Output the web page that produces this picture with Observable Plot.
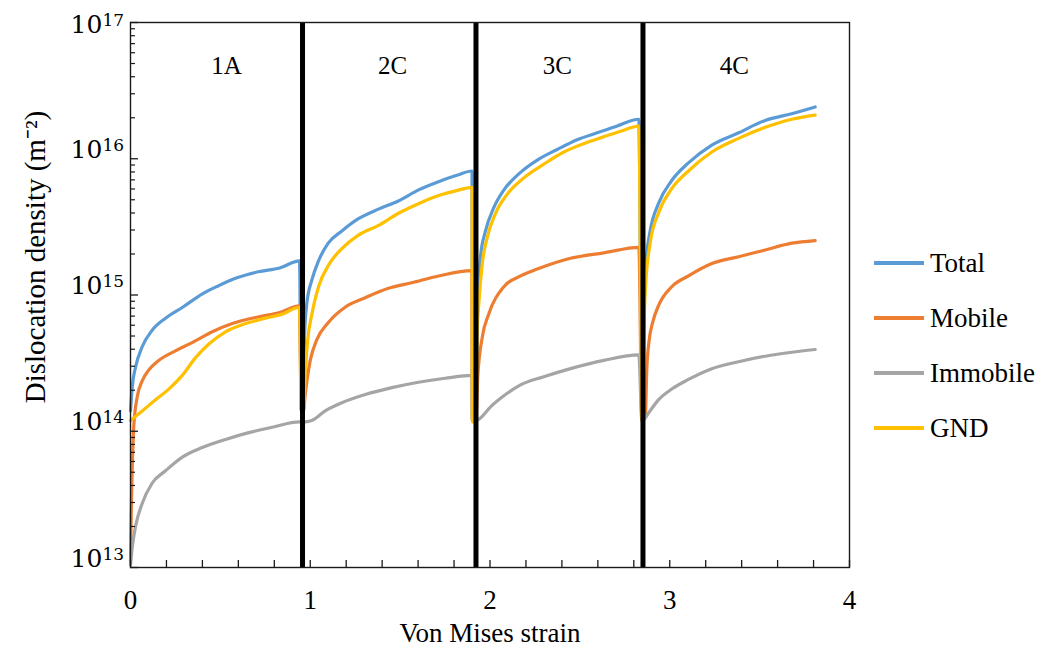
<!DOCTYPE html>
<html>
<head>
<meta charset="utf-8">
<script src="https://cdn.jsdelivr.net/npm/d3@7"></script>
<script src="https://cdn.jsdelivr.net/npm/@observablehq/plot@0.6"></script>
<style>
  body { margin: 0; background: #fff; }
  #wrap { position: relative; width: 1041px; height: 654px; font-family: "Liberation Serif", "Times New Roman", serif; }
  #legend { position: absolute; left: 874px; top: 0; }
  .row { position: absolute; left: 0; display: flex; align-items: center; height: 30px; white-space: nowrap; font-size: 27px; color: #000; font-family: "Liberation Serif", "Times New Roman", serif; }
  .sw { width: 50px; height: 4px; margin-right: 6px; }
</style>
</head>
<body>
<div id="wrap"><div id="legend"></div></div>
<script>
// ---------- data ----------
const seriesNames = ["Total", "Mobile", "Immobile", "GND"];
const seriesColors = ["#5b9bd5", "#ed7d31", "#a5a5a5", "#ffc000"];

const totalStrain = [0, 0.01, 0.028, 0.065, 0.12, 0.195, 0.29, 0.40, 0.49, 0.58, 0.71, 0.83, 0.94,
  0.95, 0.962, 0.968, 0.981, 1.009, 1.046, 1.10, 1.176, 1.268, 1.38, 1.49, 1.60, 1.71, 1.82, 1.90,
  1.902, 1.922, 1.928, 1.934, 1.947, 1.975, 2.021, 2.077, 2.17, 2.263, 2.374, 2.485, 2.596, 2.708, 2.828,
  2.845, 2.851, 2.857, 2.867, 2.891, 2.937, 3.011, 3.104, 3.234, 3.383, 3.531, 3.679, 3.809];
const totalDensity = [1.41e14, 2.14e14, 2.95e14, 4.17e14, 5.50e14, 6.76e14, 8.13e14, 1.02e15, 1.17e15, 1.32e15, 1.48e15, 1.58e15, 1.78e15,
  1.41e14, 1.41e14, 4.90e14, 8.71e14, 1.29e15, 1.78e15, 2.40e15, 2.95e15, 3.63e15, 4.27e15, 4.90e15, 5.89e15, 6.76e15, 7.59e15, 8.13e15,
  1.2e14, 1.2e14, 6.5e14, 1.15e15, 1.91e15, 2.95e15, 4.37e15, 5.89e15, 7.94e15, 9.77e15, 1.17e16, 1.38e16, 1.55e16, 1.74e16, 1.95e16,
  1.2e14, 1.2e14, 9.0e14, 1.70e15, 2.95e15, 4.68e15, 6.92e15, 9.33e15, 1.26e16, 1.55e16, 1.91e16, 2.14e16, 2.40e16];

const mobileStrain = [0, 0.004, 0.009, 0.018, 0.037, 0.065, 0.102, 0.157, 0.25, 0.343, 0.455, 0.566, 0.714, 0.825, 0.94,
  0.95, 0.962, 0.972, 1.0, 1.036, 1.102, 1.194, 1.306, 1.435, 1.565, 1.714, 1.90,
  1.902, 1.922, 1.932, 1.957, 1.993, 2.077, 2.17, 2.263, 2.448, 2.633, 2.828,
  2.845, 2.851, 2.865, 2.872, 2.885, 2.905, 2.94, 3.011, 3.104, 3.234, 3.383, 3.531, 3.679, 3.809];
const mobileDensity = [1.1e13, 2.51e13, 4.90e13, 1.07e14, 1.78e14, 2.34e14, 2.82e14, 3.31e14, 3.89e14, 4.47e14, 5.37e14, 6.17e14, 6.92e14, 7.41e14, 8.32e14,
  1.41e14, 1.41e14, 1.86e14, 3.31e14, 4.68e14, 6.31e14, 8.13e14, 9.55e14, 1.12e15, 1.23e15, 1.38e15, 1.51e15,
  1.2e14, 1.2e14, 2.51e14, 4.90e14, 7.24e14, 1.15e15, 1.38e15, 1.55e15, 1.86e15, 2.04e15, 2.24e15,
  1.2e14, 1.2e14, 1.35e14, 2.8e14, 4.6e14, 6.3e14, 8.5e14, 1.15e15, 1.38e15, 1.70e15, 1.91e15, 2.14e15, 2.40e15, 2.51e15];

const immobileStrain = [0, 0.01, 0.028, 0.065, 0.121, 0.195, 0.288, 0.399, 0.529, 0.658, 0.788, 0.94,
  0.96, 1.009, 1.083, 1.176, 1.306, 1.454, 1.602, 1.751, 1.90,
  1.902, 1.922, 1.94, 2.003, 2.077, 2.17, 2.299, 2.448, 2.633, 2.828,
  2.845, 2.851, 2.88, 2.937, 3.011, 3.104, 3.234, 3.383, 3.531, 3.679, 3.809];
const immobileDensity = [1.05e13, 1.41e13, 2.0e13, 2.95e13, 4.17e13, 5.13e13, 6.46e13, 7.59e13, 8.71e13, 9.77e13, 1.07e14, 1.17e14,
  1.17e14, 1.20e14, 1.41e14, 1.62e14, 1.86e14, 2.09e14, 2.29e14, 2.45e14, 2.57e14,
  1.2e14, 1.2e14, 1.23e14, 1.51e14, 1.82e14, 2.19e14, 2.51e14, 2.88e14, 3.31e14, 3.63e14,
  1.2e14, 1.2e14, 1.35e14, 1.70e14, 2.04e14, 2.40e14, 2.88e14, 3.24e14, 3.55e14, 3.80e14, 3.98e14];

const gndStrain = [0, 0.065, 0.139, 0.213, 0.288, 0.362, 0.436, 0.529, 0.640, 0.751, 0.844, 0.94,
  0.95, 0.962, 0.972, 0.986, 1.009, 1.046, 1.102, 1.176, 1.268, 1.38, 1.491, 1.602, 1.714, 1.825, 1.90, 1.902,
  1.922, 1.928, 1.938, 1.957, 1.984, 2.031, 2.096, 2.188, 2.299, 2.411, 2.522, 2.633, 2.744, 2.828,
  2.845, 2.851, 2.857, 2.867, 2.891, 2.937, 3.011, 3.104, 3.234, 3.383, 3.531, 3.679, 3.809];
const gndDensity = [1.2e14, 1.41e14, 1.70e14, 2.04e14, 2.57e14, 3.47e14, 4.37e14, 5.37e14, 6.17e14, 6.76e14, 7.24e14, 8.13e14,
  1.41e14, 1.41e14, 2.63e14, 4.68e14, 7.24e14, 1.15e15, 1.66e15, 2.19e15, 2.75e15, 3.24e15, 3.98e15, 4.68e15, 5.37e15, 5.89e15, 6.17e15, 1.17e14,
  1.17e14, 5.0e14, 8.71e14, 1.70e15, 2.63e15, 3.98e15, 5.50e15, 7.24e15, 9.12e15, 1.12e16, 1.29e16, 1.45e16, 1.62e16, 1.74e16,
  1.2e14, 1.2e14, 6.0e14, 1.23e15, 2.40e15, 3.98e15, 6.03e15, 8.13e15, 1.12e16, 1.41e16, 1.70e16, 1.95e16, 2.09e16];

const stageBoundaries = [0.957, 1.922, 2.851];
const stageNames = ["1A", "2C", "3C", "4C"];
const stageCenters = [0.534, 1.458, 2.374, 3.36];

const xTickValues = [0, 1, 2, 3, 4];
const xTickLabels = ["0", "1", "2", "3", "4"];
const yTickValues = [1e13, 1e14, 1e15, 1e16, 1e17];
const yTickBase = ["10", "10", "10", "10", "10"];
const yTickExponents = ["13", "14", "15", "16", "17"];

const xLabel = "Von Mises strain";
const yLabel = "Dislocation density (m\u207B\u00B2)";

// ---------- build tables ----------
const strains = [totalStrain, mobileStrain, immobileStrain, gndStrain];
const densities = [totalDensity, mobileDensity, immobileDensity, gndDensity];
const rows = seriesNames.flatMap((name, k) =>
  strains[k].map((x, i) => ({series: name, strain: x, density: densities[k][i]})));
const stages = stageNames.map((n, i) => ({name: n, x: stageCenters[i]}));
const xTicks = xTickValues.map((v, i) => ({v, label: xTickLabels[i]}));
const yTicks = yTickValues.map((v, i) => ({v, base: yTickBase[i], exp: yTickExponents[i]}));
const xMinor = d3.range(0, 4.001, 0.2);
const yMajor = yTickValues;
const yMinor = [13, 14, 15, 16].flatMap(e => [2, 3, 4, 5, 6, 7, 8, 9].map(m => m * Math.pow(10, e)));

const W = 1041, H = 654, ML = 130, MR = 192, MT = 22, MB = 87;
const plotW = W - ML - MR, plotH = H - MT - MB;
const ink = "#1a1a1a";
const serif = "'Liberation Serif', 'Times New Roman', serif";

const chart = Plot.plot({
  width: W, height: H,
  marginLeft: ML, marginRight: MR, marginTop: MT, marginBottom: MB,
  style: {fontFamily: serif, background: "white", color: "#000"},
  x: {domain: [0, 4], axis: null},
  y: {type: "log", domain: [1e13, 1e17], axis: null},
  color: {domain: seriesNames, range: seriesColors},
  marks: [
    Plot.line(rows, {x: "strain", y: "density", z: "series", stroke: "series", strokeWidth: 3.2, curve: "monotone-x"}),
    Plot.ruleX(stageBoundaries, {x: d => d, stroke: "black", strokeWidth: 5}),
    Plot.frame({stroke: ink, strokeWidth: 1.4}),
    Plot.tickX(xMinor, {x: d => d, insetTop: plotH - 7, stroke: ink, strokeWidth: 1.3}),
    Plot.tickY(yMinor, {y: d => d, insetRight: plotW - 5, stroke: ink, strokeWidth: 1.2}),
    Plot.tickY(yMajor, {y: d => d, insetRight: plotW - 8, stroke: ink, strokeWidth: 1.3}),
    Plot.text(stages, {x: "x", text: "name", frameAnchor: "top", dy: 51, lineAnchor: "bottom", fontSize: 25, fontFamily: serif}),
    Plot.text(xTicks, {x: "v", text: "label", frameAnchor: "bottom", dy: 41, lineAnchor: "bottom", fontSize: 27, fontFamily: serif}),
    Plot.text(yTicks, {filter: d => d.v < 1e17, y: "v", text: "base", frameAnchor: "left", dx: -60, dy: -1, textAnchor: "start", lineAnchor: "bottom", fontSize: 25, fontFamily: "DejaVu Serif"}),
    Plot.text(yTicks, {filter: d => d.v < 1e17, y: "v", text: "exp", frameAnchor: "left", dx: -28, dy: -8, textAnchor: "start", lineAnchor: "bottom", fontSize: 17, fontFamily: "DejaVu Serif"}),
    Plot.text(yTicks, {filter: d => d.v >= 1e17, y: "v", text: "base", frameAnchor: "left", dx: -60, dy: 10, textAnchor: "start", lineAnchor: "bottom", fontSize: 25, fontFamily: "DejaVu Serif"}),
    Plot.text(yTicks, {filter: d => d.v >= 1e17, y: "v", text: "exp", frameAnchor: "left", dx: -28, dy: 3, textAnchor: "start", lineAnchor: "bottom", fontSize: 17, fontFamily: "DejaVu Serif"}),
    Plot.text([xLabel], {text: d => d, frameAnchor: "bottom", dy: 74, lineAnchor: "bottom", textAnchor: "middle", fontSize: 27, fontFamily: serif}),
    Plot.text([yLabel], {text: d => d, frameAnchor: "left", rotate: -90, dx: -95, dy: -38, textAnchor: "middle", fontSize: 29, fontFamily: serif})
  ]
});
document.getElementById("wrap").prepend(chart);

// ---------- legend ----------
const legend = document.getElementById("legend");
const legendCenters = [263, 318, 373, 428];
seriesNames.forEach((name, i) => {
  const row = document.createElement("div");
  row.className = "row";
  row.style.top = (legendCenters[i] - 15) + "px";
  const sw = document.createElement("div");
  sw.className = "sw";
  sw.style.background = seriesColors[i];
  const tx = document.createElement("span");
  tx.textContent = name;
  row.appendChild(sw);
  row.appendChild(tx);
  legend.appendChild(row);
});
</script>
</body>
</html>
